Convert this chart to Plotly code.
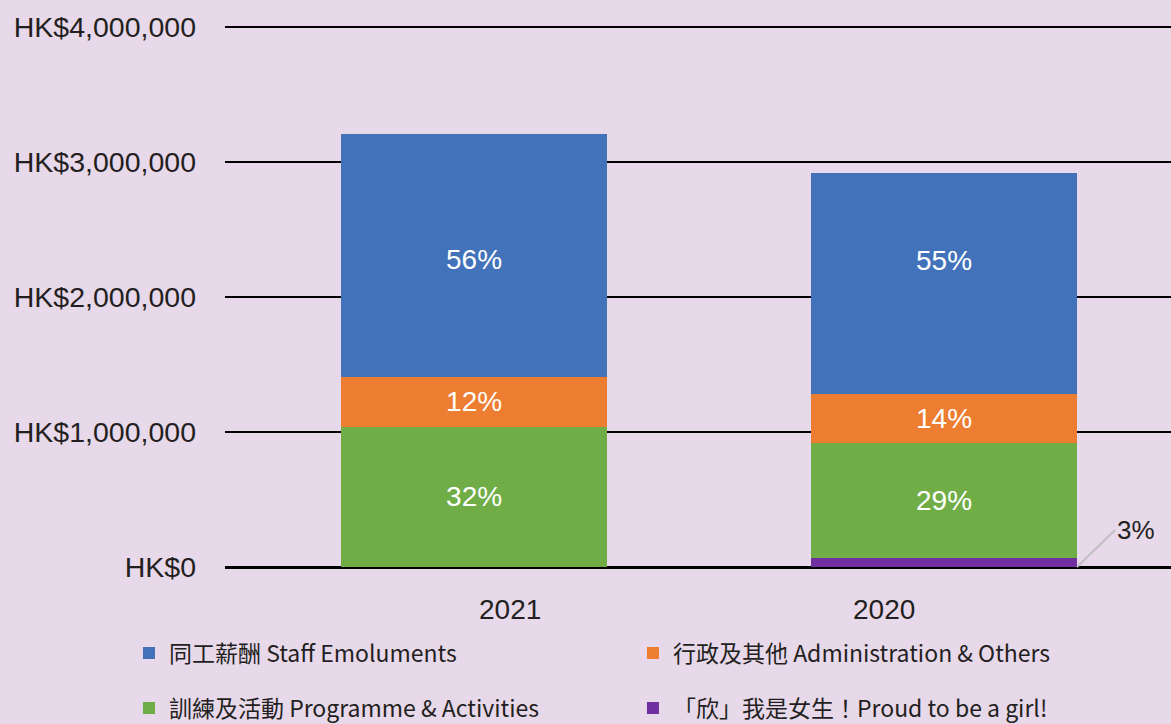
import plotly.graph_objects as go

years = ["2021", "2020"]
staff = [1800000, 1637000]
admin = [370000, 363000]
programme = [1040000, 852000]
proud = [0, 67000]

staff_pct = ["56%", "55%"]
admin_pct = ["12%", "14%"]
programme_pct = ["32%", "29%"]
proud_pct = ["", "3%"]

names = {
    "staff": "同工薪酬 Staff Emoluments",
    "admin": "行政及其他 Administration & Others",
    "programme": "訓練及活動 Programme & Activities",
    "proud": "「欣」我是女生！Proud to be a girl!",
}

colors = {"staff": "#4272B9", "admin": "#ED7D31", "programme": "#70AD47", "proud": "#7030A0"}
bg = "#e7d8ea"
txt = "#231f20"
bar_w = 0.566
font_lat = "Liberation Sans, Arial"
font_cjk = "Noto Sans CJK TC"

fig = go.Figure()
series = [
    ("proud", proud, proud_pct, "legend2", 4),
    ("programme", programme, programme_pct, "legend2", 3),
    ("admin", admin, admin_pct, "legend", 2),
    ("staff", staff, staff_pct, "legend", 1),
]
for key, vals, pct, leg, rank in series:
    show_text = key in ("programme", "admin")
    fig.add_trace(go.Bar(
        x=years, y=vals, name=names[key], width=[bar_w] * len(years),
        marker=dict(color=colors[key], line=dict(width=0)),
        text=pct if show_text else None,
        textposition="inside" if show_text else "none",
        insidetextanchor="middle",
        textfont=dict(color="white", size=28, family=font_lat),
        legend=leg, legendrank=rank, hoverinfo="skip",
    ))

fig.update_layout(
    width=1171, height=724,
    barmode="stack",
    paper_bgcolor=bg, plot_bgcolor=bg,
    margin=dict(l=225, r=0, t=0, b=150, autoexpand=False),
    font=dict(family=font_lat, color=txt),
    xaxis=dict(type="category", range=[-0.53, 1.483], showticklabels=False,
               showgrid=False, zeroline=False, showline=False, ticks=""),
    yaxis=dict(range=[-51852, 4200000], dtick=1000000, tick0=0,
               tickprefix="HK$", tickformat=",d",
               showgrid=True, gridcolor="black", gridwidth=2,
               zeroline=True, zerolinecolor="black", zerolinewidth=3,
               tickfont=dict(size=28.5, color=txt, family=font_lat),
               ticklabelstandoff=28, ticks=""),
    legend=dict(orientation="h", xref="paper", yref="paper",
                x=-0.1015, y=-0.1376, xanchor="left", yanchor="middle",
                entrywidth=459, bgcolor="rgba(0,0,0,0)", traceorder="normal",
                font=dict(size=23, color=txt, family=font_cjk)),
    legend2=dict(orientation="h", xref="paper", yref="paper",
                 x=-0.1015, y=-0.2334, xanchor="left", yanchor="middle",
                 entrywidth=459, bgcolor="rgba(0,0,0,0)", traceorder="normal",
                 font=dict(size=23, color=txt, family=font_cjk)),
    showlegend=True,
)

# staff percentage labels (2020 label sits above the segment centre in the reference)
for i, shift in zip(range(len(years)), [-4, 23]):
    base = proud[i] + programme[i] + admin[i]
    fig.add_annotation(x=i, y=base + staff[i] / 2, xref="x", yref="y",
                       text=staff_pct[i], showarrow=False, yshift=shift,
                       font=dict(size=28, color="white", family=font_lat))

# year labels
for i, (yr, shift) in enumerate(zip(years, [36, -60])):
    fig.add_annotation(x=i, y=-0.0627, xref="x", yref="paper", text=yr,
                       showarrow=False, xshift=shift, yanchor="middle",
                       font=dict(size=28, color=txt, family=font_lat))

# callout for the small purple segment
fig.add_annotation(x=1 + bar_w / 2, y=0, xref="x", yref="y",
                   text=proud_pct[1], showarrow=True, arrowhead=0,
                   arrowcolor="#c0c0c0", arrowwidth=2, ax=38, ay=-37,
                   xanchor="left", yanchor="middle",
                   font=dict(size=26, color=txt, family=font_lat))

fig.write_html("out.html", config={"displayModeBar": False},
               post_script="document.body.style.margin='0';")
